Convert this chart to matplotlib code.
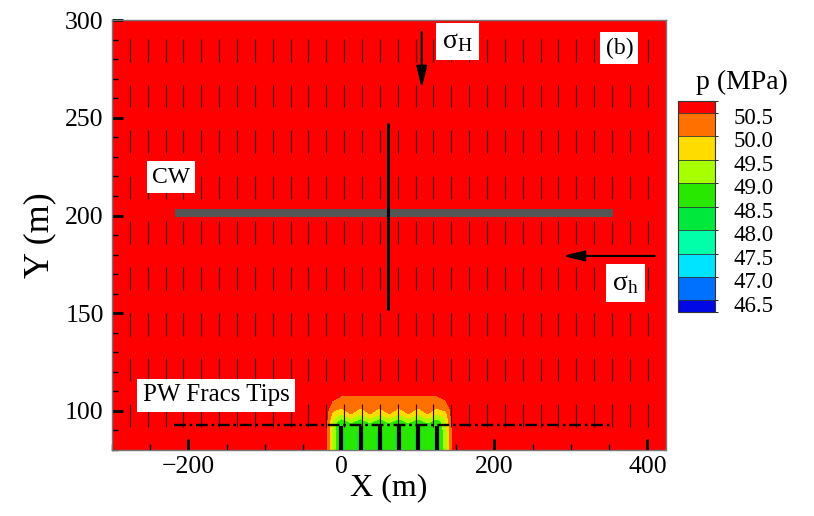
import numpy as np
import matplotlib
matplotlib.use("Agg")
import matplotlib.pyplot as plt
import matplotlib.cm as cm
from matplotlib.colors import ListedColormap, BoundaryNorm
from matplotlib.ticker import MultipleLocator

plt.rcParams['font.family'] = 'Liberation Serif'
plt.rcParams['mathtext.fontset'] = 'custom'
plt.rcParams['mathtext.rm'] = 'Liberation Serif'
plt.rcParams['mathtext.it'] = 'Liberation Serif:italic'

# pressure contour levels (MPa) and band colours, low -> high
p_levels = [46.5, 47.0, 47.5, 48.0, 48.5, 49.0, 49.5, 50.0, 50.5]
band_colors = ['#0008E6', '#0070FF', '#00E4FF', '#00FFA8', '#00E83C',
               '#28E800', '#A8FF00', '#FFDC00', '#FF7000', '#FF0000']
p_far = 51.0

# pressure around the production well fractures
grid_x = [-25, -18, -12, -6, 0, 12.5, 25, 37.5, 50, 62.5, 75, 87.5, 100,
          112.5, 125, 131, 137, 143, 150]
grid_y = [80, 88, 92.5, 94.5, 96.5, 98.5, 101, 104, 108, 111]
p_grid = [
    [51, 50.3, 49.3, 48.8, 48.3, 48.8, 48.3, 48.8, 48.3, 48.8, 48.3, 48.8, 48.3, 48.8, 48.3, 48.8, 49.3, 50.3, 51],
    [51, 50.3, 49.3, 48.8, 48.3, 48.8, 48.3, 48.8, 48.3, 48.8, 48.3, 48.8, 48.3, 48.8, 48.3, 48.8, 49.3, 50.3, 51],
    [51, 50.35, 49.4, 48.9, 48.7, 48.9, 48.7, 48.9, 48.7, 48.9, 48.7, 48.9, 48.7, 48.9, 48.7, 48.9, 49.4, 50.35, 51],
    [51, 50.4, 49.5, 49.0, 48.85, 49.05, 48.85, 49.05, 48.85, 49.05, 48.85, 49.05, 48.85, 49.05, 48.85, 49.0, 49.5, 50.4, 51],
    [51, 50.45, 49.7, 49.3, 49.05, 49.55, 49.05, 49.55, 49.05, 49.55, 49.05, 49.55, 49.05, 49.55, 49.05, 49.3, 49.7, 50.45, 51],
    [51, 50.5, 49.9, 49.7, 49.55, 50.0, 49.55, 50.0, 49.55, 50.0, 49.55, 50.0, 49.55, 50.0, 49.55, 49.7, 49.9, 50.5, 51],
    [51, 50.55, 50.1, 50.05, 49.95, 50.2, 49.95, 50.2, 49.95, 50.2, 49.95, 50.2, 49.95, 50.2, 49.95, 50.05, 50.1, 50.55, 51],
    [51, 50.8, 50.4, 50.35, 50.25, 50.35, 50.25, 50.35, 50.25, 50.35, 50.25, 50.35, 50.25, 50.35, 50.25, 50.35, 50.4, 50.8, 51],
    [51, 51, 50.7, 50.6, 50.52, 50.48, 50.52, 50.48, 50.52, 50.48, 50.52, 50.48, 50.52, 50.48, 50.52, 50.6, 50.7, 51, 51],
    [51, 51, 51, 51, 51, 51, 51, 51, 51, 51, 51, 51, 51, 51, 51, 51, 51, 51, 51],
]

x_range = [-300, 424]
y_range = [80, 300]

# wells and fractures
frac_x = [0, 25, 50, 75, 100, 125]
frac_tip_y = 92.4
tips_x = [-219, 353]
tips_y = 93
cw_x = [-218, 355]
cw_y = 201.3
cw_frac_x = 61
cw_frac_y = [151.6, 247.3]

# stress-direction glyph mesh
mesh_dx = 23.35
glyph_x = -276.7 + mesh_dx * np.arange(30)
glyph_y = 284.5 - mesh_dx * np.arange(10)
glyph_half = 5.85

fig = plt.figure(figsize=(8.14, 5.16), dpi=100)
ax = fig.add_axes([0.1376, 0.128, 0.6802, 0.833])

xs = np.concatenate([[x_range[0]], grid_x, [x_range[1]]])
ys = np.concatenate([grid_y, [y_range[1]]])
P = np.full((len(ys), len(xs)), p_far)
P[:-1, 1:-1] = np.array(p_grid)

levels = [p_levels[0] - 10] + p_levels + [p_far + 10]
ax.contourf(xs, ys, P, levels=levels, colors=band_colors, zorder=1)

# glyphs
gx, gy = np.meshgrid(glyph_x, glyph_y)
ax.vlines(gx.ravel(), gy.ravel() - glyph_half, gy.ravel() + glyph_half,
          color='#4a0000', lw=0.85, zorder=2)

ax.plot(tips_x, [tips_y, tips_y], color='k', lw=1.7, dashes=(5, 1.6, 1.1, 1.6), zorder=3)
ax.vlines(frac_x, y_range[0], frac_tip_y, color='k', lw=3.0, zorder=4)
ax.plot(cw_x, [cw_y, cw_y], color='#555555', lw=5.8, solid_capstyle='butt', zorder=4)
ax.plot([cw_frac_x, cw_frac_x], cw_frac_y, color='k', lw=2.2, solid_capstyle='butt', zorder=5)

arrow = dict(arrowstyle='-|>,head_length=1.3,head_width=0.32', lw=1.5, color='k',
             shrinkA=0, shrinkB=0)
ax.annotate('', xy=(105, 265.2), xytext=(105, 293.9), arrowprops=arrow, zorder=6)
ax.annotate('', xy=(289.5, 179.3), xytext=(409.6, 179.3), arrowprops=arrow, zorder=6)

box = dict(facecolor='white', edgecolor='none', boxstyle='square,pad=0.22')
ax.text(152, 289, r'$\mathrm{\sigma_H}$', fontsize=20, ha='center', va='center', bbox=box, zorder=7)
ax.text(371, 165.4, r'$\mathrm{\sigma_h}$', fontsize=20, ha='center', va='center', bbox=box, zorder=7)
ax.text(363.4, 285.7, '(b)', fontsize=17, ha='center', va='center', bbox=box, zorder=7)
ax.text(-223, 219.7, 'CW', fontsize=17, ha='center', va='center', bbox=box, zorder=7)
ax.text(-163.7, 107.9, 'PW Fracs Tips', fontsize=18, ha='center', va='center', bbox=box, zorder=7)

ax.set_xlim(x_range)
ax.set_ylim(y_range)
ax.set_xticks([-200, 0, 200, 400])
ax.set_yticks([100, 150, 200, 250, 300])
ax.xaxis.set_minor_locator(MultipleLocator(50))
ax.yaxis.set_minor_locator(MultipleLocator(10))
ax.tick_params(which='major', direction='in', length=8, width=2, labelsize=18.5, pad=4)
ax.tick_params(which='minor', direction='in', length=4, width=1)
ax.tick_params(axis='y', which='major', pad=6)
for s in ax.spines.values():
    s.set_color('#777777')
    s.set_linewidth(1.0)

ax.set_xlabel('X (m)', fontsize=23)
ax.set_ylabel('Y (m)', fontsize=26)
ax.xaxis.set_label_coords(0.5, -0.055)
ax.yaxis.set_label_coords(-0.1, 0.5)

# colour legend
cax = fig.add_axes([0.833, 0.395, 0.0455, 0.409])
cmap = ListedColormap(band_colors)
bounds = [p_levels[0] - 0.25] + p_levels + [p_levels[-1] + 0.25]
norm = BoundaryNorm(bounds, cmap.N)
cb = fig.colorbar(cm.ScalarMappable(norm=norm, cmap=cmap), cax=cax,
                  ticks=[], drawedges=True, spacing='proportional')
cb.outline.set_edgecolor('#333333')
cb.outline.set_linewidth(0.8)
cb.dividers.set_color('#333333')
cb.dividers.set_linewidth(0.6)
# level labels sit just under each band boundary
for v in p_levels:
    cax.annotate(f'{v:.1f}', xy=(1, v), xycoords=('axes fraction', 'data'),
                 xytext=(13, -4), textcoords='offset points',
                 fontsize=16.5, ha='left', va='center', annotation_clip=False)
fig.text(0.9115, 0.841, 'p (MPa)', fontsize=20, ha='center', va='center')

fig.savefig('out.png', dpi=100)
